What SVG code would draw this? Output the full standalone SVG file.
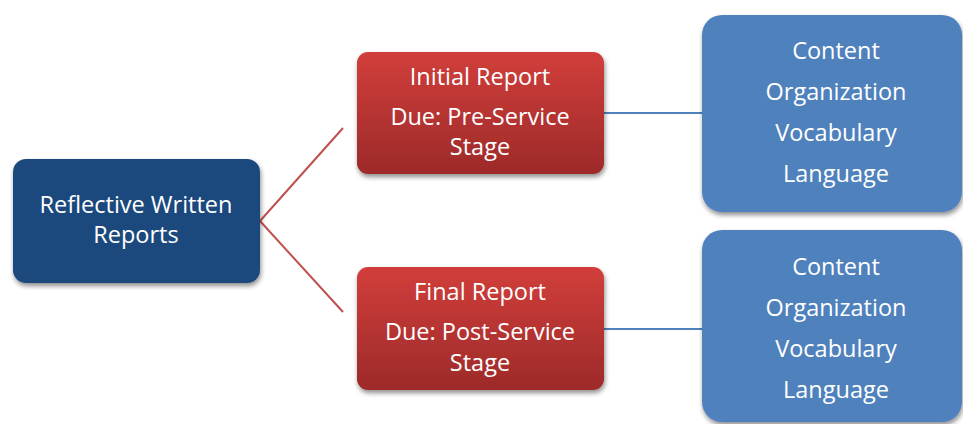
<svg xmlns="http://www.w3.org/2000/svg" width="963" height="424" viewBox="0 0 963 424">
<style>
.t{font-family:"Open Sans","Liberation Sans",sans-serif;font-size:23.5px;fill:#fff;text-anchor:middle}
.c{fill:none;stroke-width:2}
</style>
<defs>
<linearGradient id="red" x1="0" y1="0" x2="0" y2="1">
<stop offset="0" stop-color="#d13e3b"/>
<stop offset="1" stop-color="#9d2a2a"/>
</linearGradient>
<filter id="sh" x="-10%" y="-10%" width="130%" height="130%">
<feGaussianBlur in="SourceAlpha" stdDeviation="2.5"/>
<feOffset dx="1" dy="3" result="b"/>
<feComponentTransfer><feFuncA type="linear" slope="0.45"/></feComponentTransfer>
<feMerge><feMergeNode/><feMergeNode in="SourceGraphic"/></feMerge>
</filter>
</defs>
<rect width="963" height="424" fill="#fff"/>
<g id="connectors">
<line class="c" x1="260" y1="221" x2="343" y2="128" stroke="#c0504d"/>
<line class="c" x1="260" y1="221" x2="343" y2="312" stroke="#c0504d"/>
<line class="c" x1="604" y1="113" x2="702" y2="113" stroke="#4f81bd"/>
<line class="c" x1="604" y1="329" x2="702" y2="329" stroke="#4f81bd"/>
</g>
<g id="root">
<rect x="13" y="159" width="247" height="124" rx="13" fill="#1f497d" filter="url(#sh)"/>
<text class="t" x="136" y="213">Reflective Written</text>
<text class="t" x="136" y="243">Reports</text>
</g>
<g id="initial">
<rect x="357" y="52" width="247" height="122" rx="11" fill="url(#red)" filter="url(#sh)"/>
<text class="t" x="480" y="85">Initial Report</text>
<text class="t" x="480" y="125">Due: Pre-Service</text>
<text class="t" x="480" y="155">Stage</text>
</g>
<g id="final">
<rect x="357" y="267" width="247" height="123" rx="11" fill="url(#red)" filter="url(#sh)"/>
<text class="t" x="480" y="300">Final Report</text>
<text class="t" x="480" y="340">Due: Post-Service</text>
<text class="t" x="480" y="371">Stage</text>
</g>
<g id="criteria1">
<rect x="702" y="15" width="260" height="197" rx="20" fill="#4f81bd" filter="url(#sh)"/>
<text class="t" x="836" y="59">Content</text>
<text class="t" x="836" y="100">Organization</text>
<text class="t" x="836" y="141">Vocabulary</text>
<text class="t" x="836" y="182">Language</text>
</g>
<g id="criteria2">
<rect x="702" y="230" width="260" height="192" rx="20" fill="#4f81bd" filter="url(#sh)"/>
<text class="t" x="836" y="275">Content</text>
<text class="t" x="836" y="316">Organization</text>
<text class="t" x="836" y="357">Vocabulary</text>
<text class="t" x="836" y="398">Language</text>
</g>
</svg>
